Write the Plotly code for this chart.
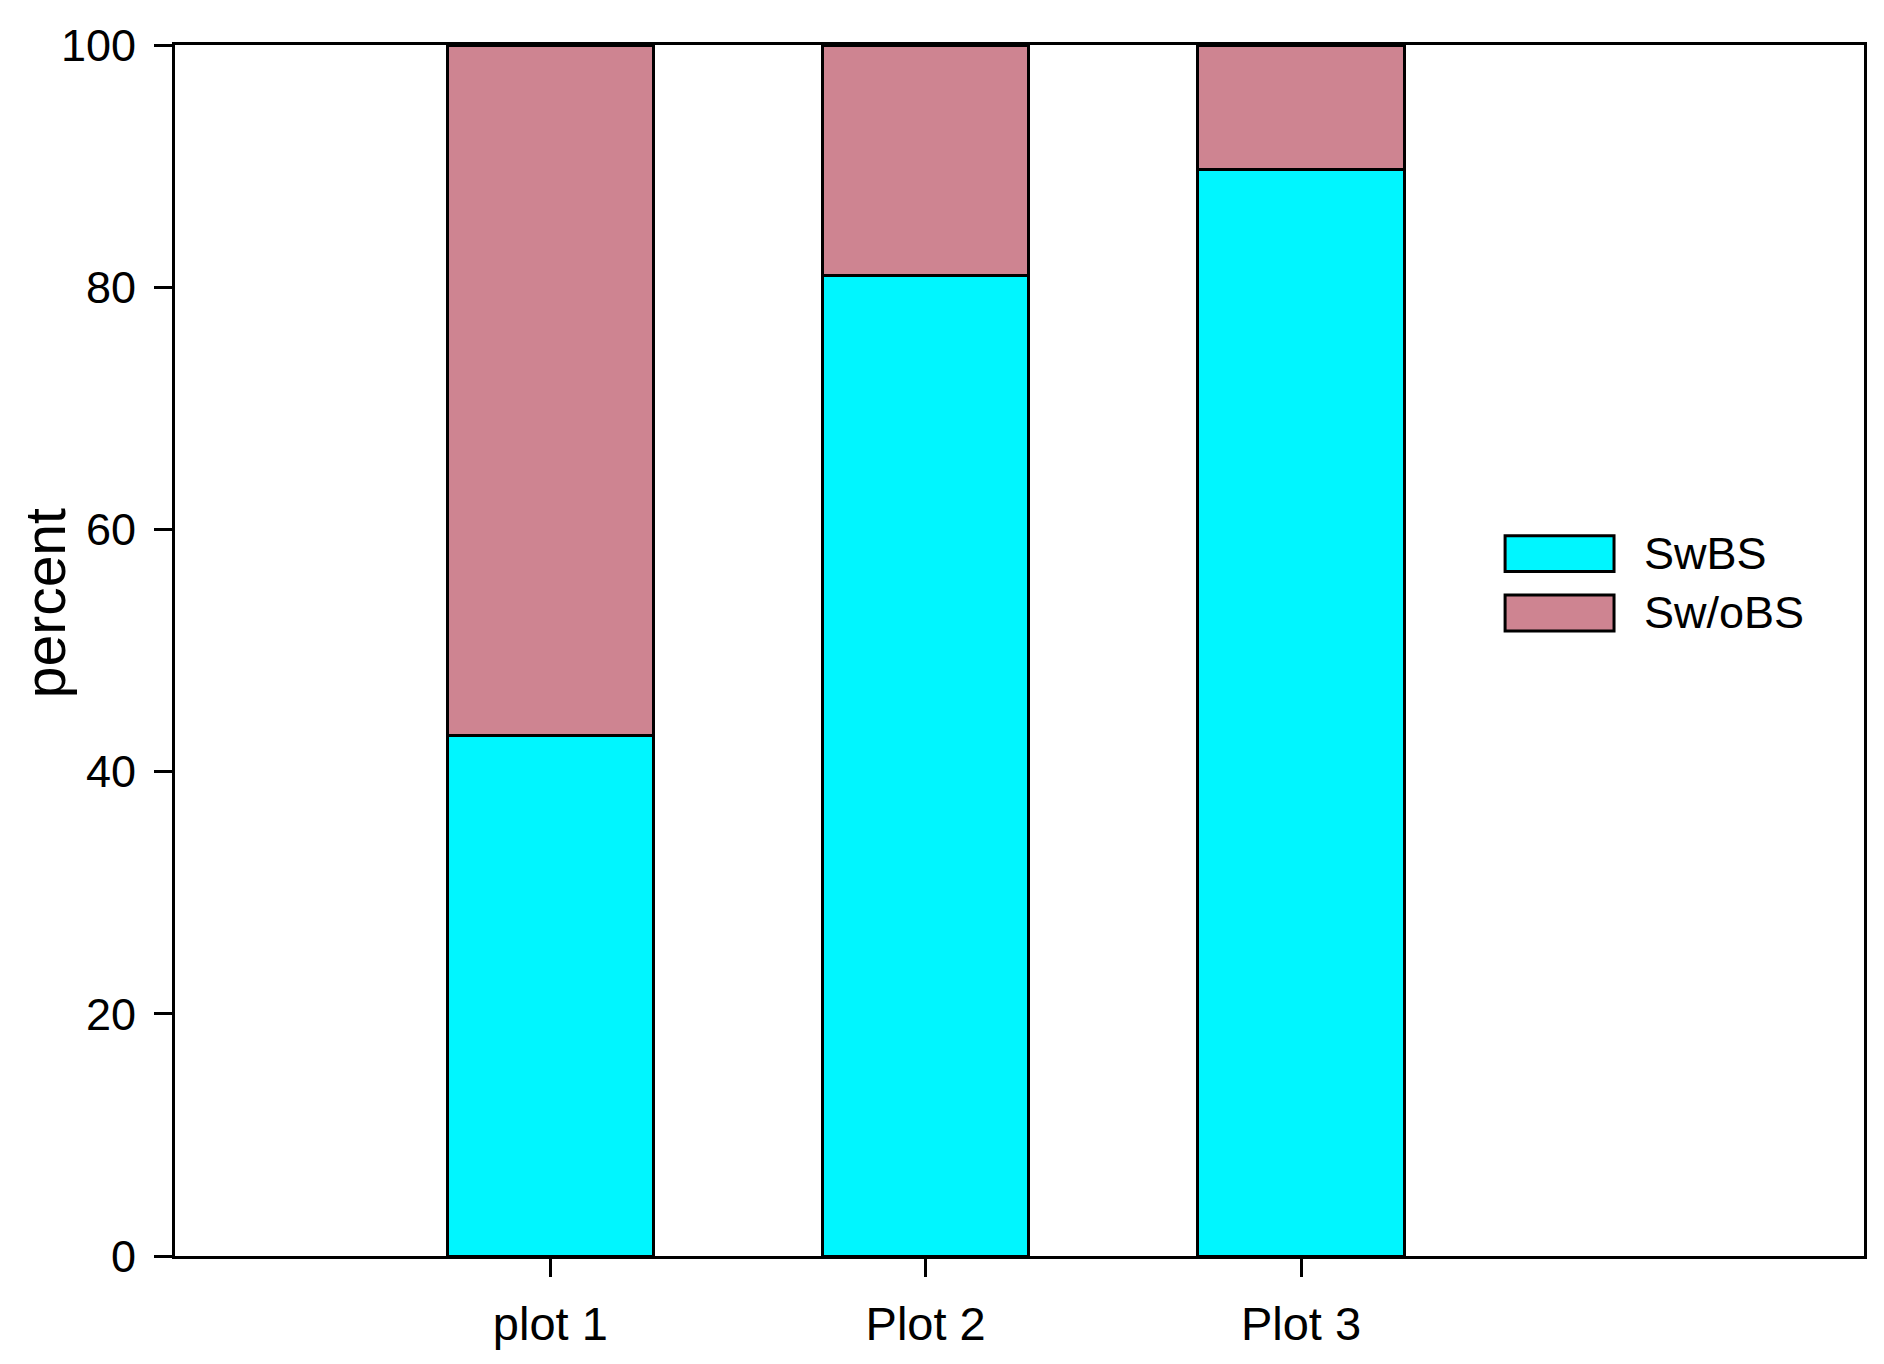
import plotly.graph_objects as go

# data
categories = ["plot 1", "Plot 2", "Plot 3"]
swbs = [43.0, 81.0, 89.7]
swobs = [57.0, 19.0, 10.3]
series_names = ["SwBS", "Sw/oBS"]
series_colors = ["#00F6FF", "#CE8491"]
y_ticks = [0, 20, 40, 60, 80, 100]

FONT = "Liberation Sans, Arial, sans-serif"

fig = go.Figure()
for name, vals, color in zip(series_names, [swbs, swobs], series_colors):
    fig.add_trace(go.Bar(
        x=categories, y=vals, name=name, width=0.55,
        marker=dict(color=color, line=dict(color="black", width=3)),
        showlegend=False,
    ))

# page body adds 8px, so margins are trimmed to keep the plot where it should be
fig.update_layout(
    width=1884, height=1364,
    margin=dict(l=167, r=28, t=32, b=116),
    barmode="stack",
    paper_bgcolor="white", plot_bgcolor="white",
    font=dict(family=FONT, color="black"),
)

fig.update_xaxes(
    range=[-1, 3.5], tickvals=categories,
    showline=True, linecolor="black", linewidth=3, mirror=True,
    ticks="outside", ticklen=18, tickwidth=2.5, tickcolor="black",
    tickfont=dict(size=47), showgrid=False, zeroline=False,
    ticklabelstandoff=7,
)
fig.update_yaxes(
    range=[0, 100], tickvals=y_ticks,
    showline=True, linecolor="black", linewidth=3, mirror=True,
    ticks="outside", ticklen=18, tickwidth=2.5, tickcolor="black",
    tickfont=dict(size=45), showgrid=False, zeroline=False,
    ticklabelstandoff=9,
)

# y title placed where the reference has it (slightly above the middle)
fig.add_annotation(
    text="percent", textangle=-90, showarrow=False,
    xref="paper", yref="paper", x=-0.077, y=0.539,
    xanchor="center", yanchor="middle", font=dict(size=57),
)

# legend drawn by hand: plotly's bar swatches are too small
box_x0, box_x1 = 0.7875, 0.852
row_y = [0.58, 0.531]
box_h = 0.0296
for name, color, yc in zip(series_names, series_colors, row_y):
    fig.add_shape(
        type="rect", xref="paper", yref="paper",
        x0=box_x0, x1=box_x1, y0=yc - box_h / 2, y1=yc + box_h / 2,
        fillcolor=color, line=dict(color="black", width=3),
    )
    fig.add_annotation(
        text=name, showarrow=False, xref="paper", yref="paper",
        x=0.8686, y=yc, xanchor="left", yanchor="middle",
        font=dict(size=45),
    )

fig.write_html("out.html")
